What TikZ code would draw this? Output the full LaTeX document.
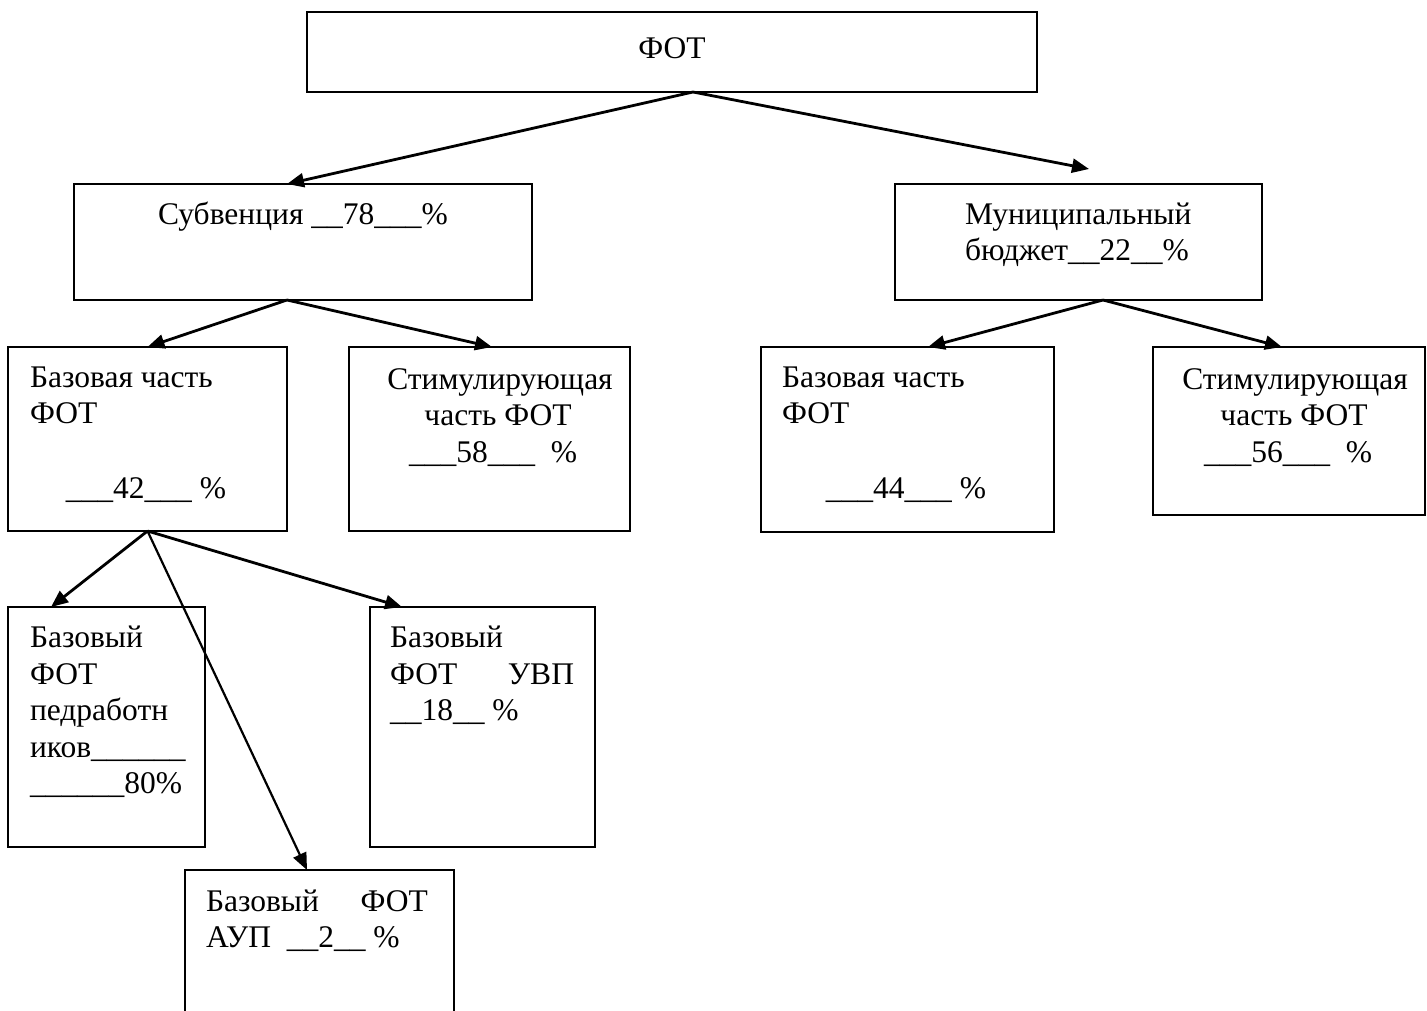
\documentclass[tikz,border=0pt]{standalone}
\usepackage{fontspec}
\setmainfont{Liberation Serif}
\usetikzlibrary{arrows.meta}
\begin{document}
\begin{tikzpicture}[x=1pt,y=-1pt,
  box/.style={draw=black,line width=2pt,inner sep=0pt,outer sep=0pt,fill=none},
  arr/.style={draw=black,line width=2.8pt,-{Triangle[length=17pt,width=14pt]}},
  arrthin/.style={draw=black,line width=2.2pt,-{Triangle[length=17pt,width=14pt]}},
  txt/.style={inner sep=0pt,outer sep=0pt,font=\fontsize{31.5}{36.5}\selectfont}]
\useasboundingbox (0,0) rectangle (1427,1011);
\clip (0,0) rectangle (1427,1011);
% boxes
\node[box,minimum width=730pt,minimum height=80pt] (fot) at (672,52) {};
\node[box,minimum width=458pt,minimum height=116pt] (sub) at (303,242) {};
\node[box,minimum width=367pt,minimum height=116pt] (mun) at (1078.5,242) {};
\node[box,minimum width=279pt,minimum height=184pt] (bl) at (147.5,439) {};
\node[box,minimum width=281pt,minimum height=184pt] (sl) at (489.5,439) {};
\node[box,minimum width=293pt,minimum height=185pt] (br) at (907.5,439.5) {};
\node[box,minimum width=272pt,minimum height=168pt] (sr) at (1289,431) {};
\node[box,minimum width=197pt,minimum height=240pt] (ped) at (106.5,727) {};
\node[box,minimum width=225pt,minimum height=240pt] (uvp) at (482.5,727) {};
\node[box,minimum width=269pt,minimum height=160pt] (aup) at (319.5,950) {};
% texts
\node[txt,anchor=base] (tfot) at (672,59) {ФОТ};
\node[txt,anchor=base] (tsub) at (303,225) {Субвенция \_\_78\_\_\_\%};
\node[txt,anchor=base west] (tmun1) at (965,225) {Муниципальный};
\node[txt,anchor=base west] (tmun2) at (965,261) {бюджет\_\_22\_\_\%};
\node[txt,anchor=base west] (tbl1) at (30,387) {Базовая часть};
\node[txt,anchor=base west] (tbl2) at (30,423) {ФОТ};
\node[txt,anchor=base] (tbl3) at (146,498) {\_\_\_42\_\_\_ \%};
\node[txt,anchor=base] (tsl1) at (500,389) {Стимулирующая};
\node[txt,anchor=base] (tsl2) at (498,425) {часть ФОТ};
\node[txt,anchor=base] (tsl3) at (493,462) {\_\_\_58\_\_\_\ \ \%};
\node[txt,anchor=base west] (tbr1) at (782,387) {Базовая часть};
\node[txt,anchor=base west] (tbr2) at (782,423) {ФОТ};
\node[txt,anchor=base] (tbr3) at (906,498) {\_\_\_44\_\_\_ \%};
\node[txt,anchor=base] (tsr1) at (1295,389) {Стимулирующая};
\node[txt,anchor=base] (tsr2) at (1294,425) {часть ФОТ};
\node[txt,anchor=base] (tsr3) at (1288,462) {\_\_\_56\_\_\_\ \ \%};
\node[txt,anchor=base west] (tped1) at (30,647) {Базовый};
\node[txt,anchor=base west] (tped2) at (30,684) {ФОТ};
\node[txt,anchor=base west] (tped3) at (30,720) {педработн};
\node[txt,anchor=base west] (tped4) at (30,757) {иков\_\_\_\_\_\_};
\node[txt,anchor=base west] (tped5) at (30,793) {\_\_\_\_\_\_80\%};
\node[txt,anchor=base west] (tuvp1) at (390,647) {Базовый};
\node[txt,anchor=base west] (tuvp2) at (390,684) {\makebox[184pt][s]{ФОТ\hfill УВП}};
\node[txt,anchor=base west] (tuvp3) at (390,720) {\_\_18\_\_ \%};
\node[txt,anchor=base west] (taup1) at (206,911) {\makebox[222pt][s]{Базовый\hfill ФОТ}};
\node[txt,anchor=base west] (taup2) at (206,947) {АУП\ \ \_\_2\_\_ \%};
% connectors
\coordinate (munTip) at ([xshift=10.5pt,yshift=15pt]mun.north);
\draw[arr] ([xshift=21pt]fot.south) -- ([xshift=-16pt]sub.north);
\draw[arr] ([xshift=21pt]fot.south) -- (munTip);
\draw[arr] ([xshift=-16pt]sub.south) -- (bl.north);
\draw[arr] ([xshift=-16pt]sub.south) -- ([xshift=2.5pt]sl.north);
\draw[arr] ([xshift=24.5pt]mun.south) -- ([xshift=20.5pt]br.north);
\draw[arr] ([xshift=24.5pt]mun.south) -- ([xshift=-7pt]sr.north);
\draw[arr] (bl.south) -- ([xshift=-55.5pt]ped.north);
\draw[arr] (bl.south) -- ([xshift=-80.5pt]uvp.north);
\draw[arrthin] (bl.south) -- ([xshift=-12.5pt]aup.north);
\end{tikzpicture}
\end{document}
